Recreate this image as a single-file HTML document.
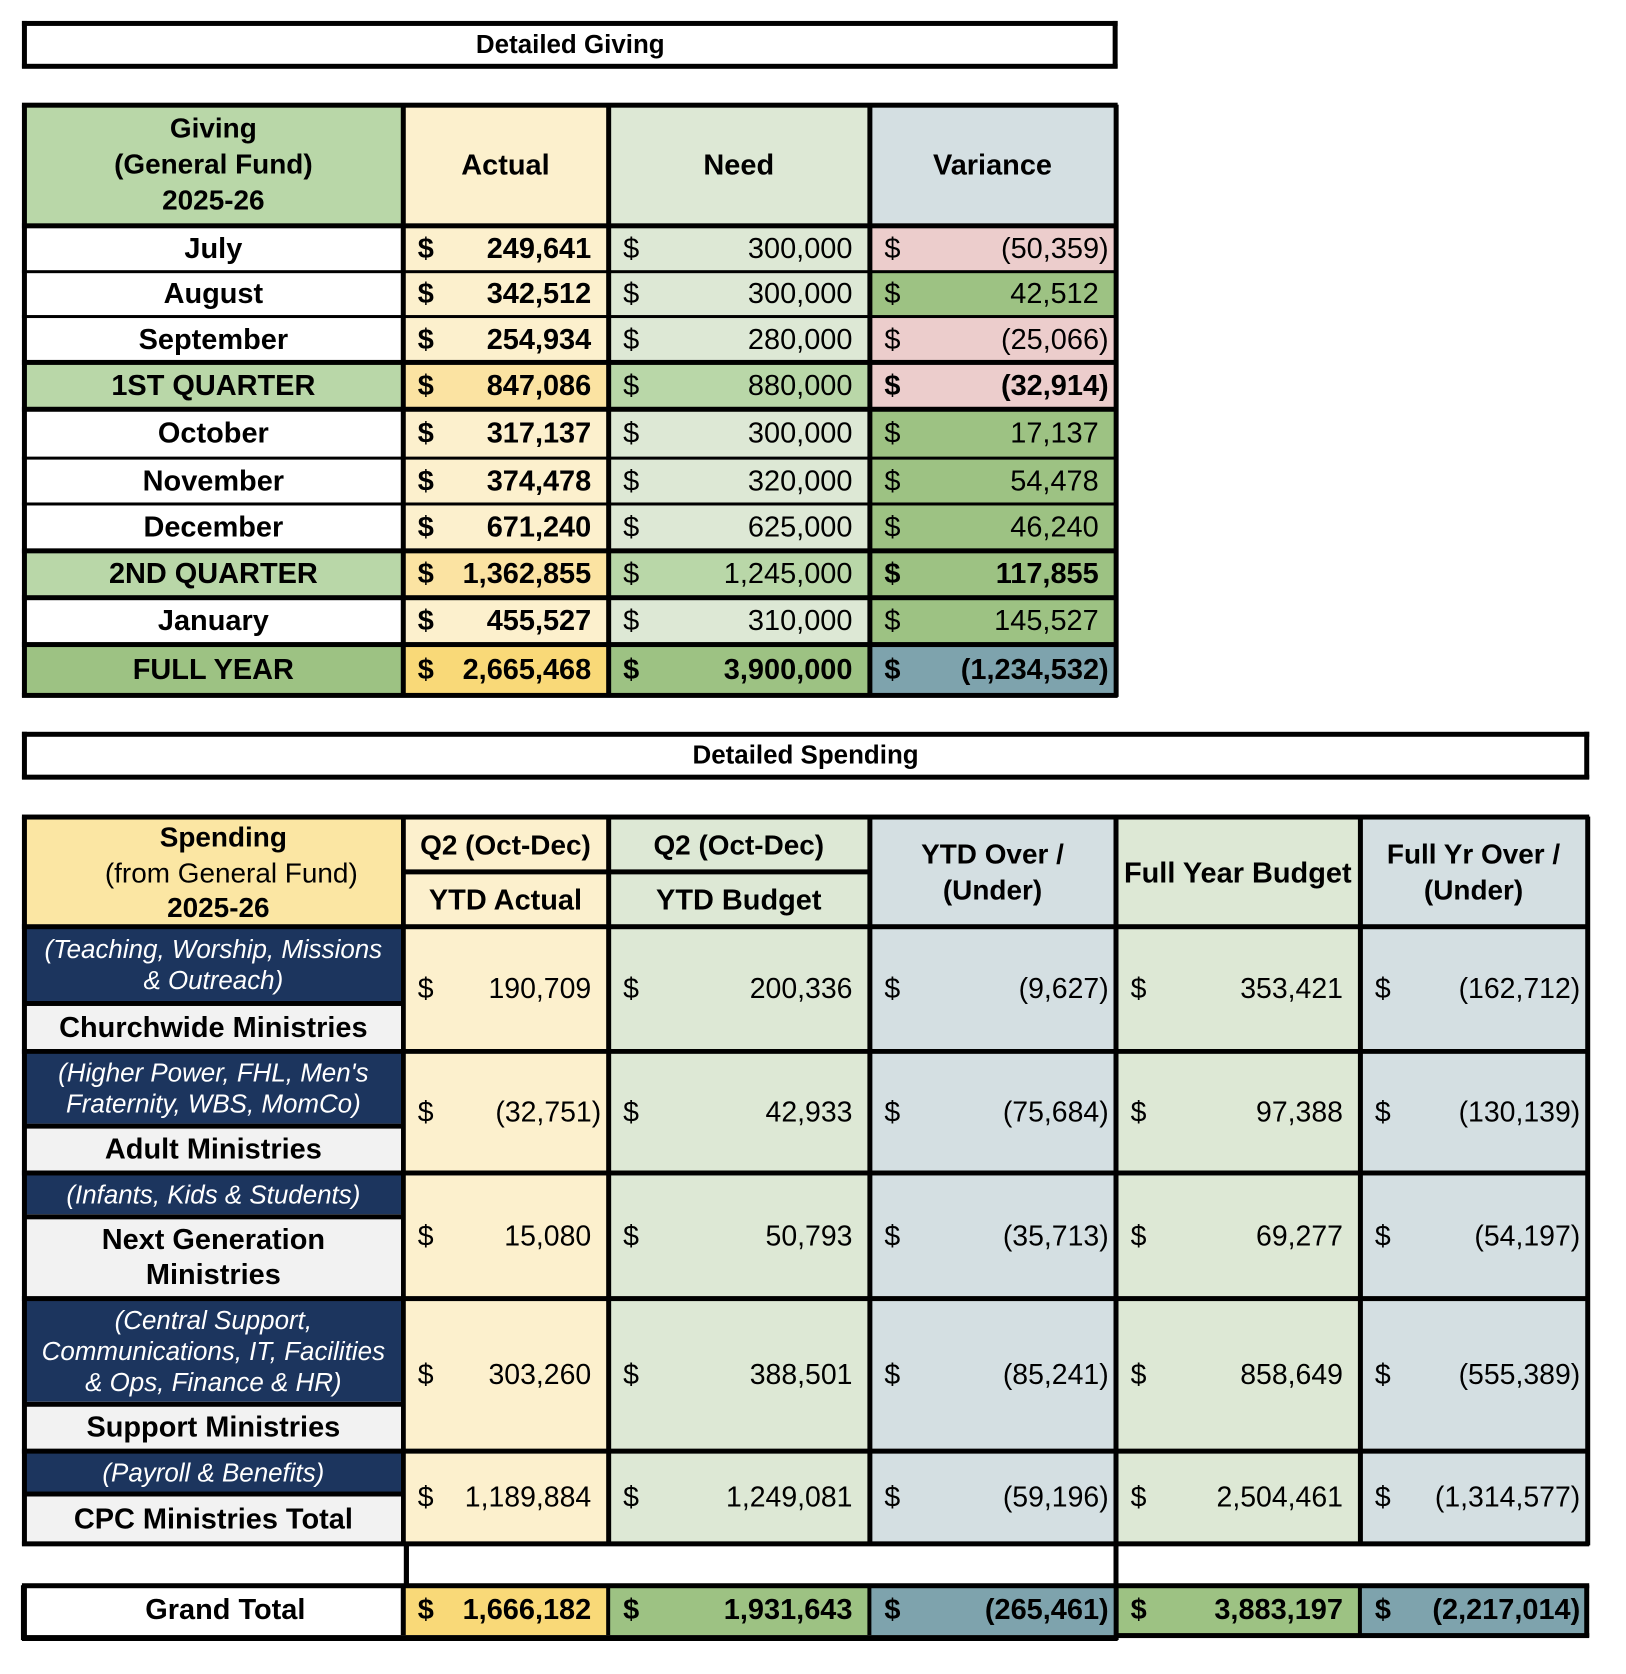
<!DOCTYPE html>
<html><head><meta charset="utf-8">
<style>
html,body{margin:0;padding:0;background:#fff;}
#wrap{position:relative;width:1626px;height:1674px;overflow:hidden;background:#fff;}
#root{position:absolute;left:0;top:0;width:1626px;height:1674px;transform:scale(0.997);transform-origin:0 0;font-family:"Liberation Sans",Arial,sans-serif;color:#000;}
.c{position:absolute;box-sizing:border-box;}
.t{position:absolute;white-space:nowrap;line-height:1;}
.ln{position:absolute;background:#000;}
</style></head>
<body>
<div id="wrap"><div id="root"></div></div>
<script>
// ---------- Giving data ----------
const givingLabels = ["July","August","September","1ST QUARTER","October","November","December","2ND QUARTER","January","FULL YEAR"];
const givingActual = ["249,641","342,512","254,934","847,086","317,137","374,478","671,240","1,362,855","455,527","2,665,468"];
const givingNeed = ["300,000","300,000","280,000","880,000","300,000","320,000","625,000","1,245,000","310,000","3,900,000"];
const givingVariance = ["(50,359)","42,512","(25,066)","(32,914)","17,137","54,478","46,240","117,855","145,527","(1,234,532)"];
const givingKind = ["m","m","m","q","m","m","m","q","m","y"];
// ---------- Spending data ----------
const spendDesc = ["(Teaching, Worship, Missions|& Outreach)","(Higher Power, FHL, Men's|Fraternity, WBS, MomCo)","(Infants, Kids & Students)","(Central Support,|Communications, IT, Facilities|& Ops, Finance & HR)","(Payroll & Benefits)"];
const spendName = ["Churchwide Ministries","Adult Ministries","Next Generation|Ministries","Support Ministries","CPC Ministries Total"];
const spendActual = ["190,709","(32,751)","15,080","303,260","1,189,884"];
const spendBudget = ["200,336","42,933","50,793","388,501","1,249,081"];
const spendOver = ["(9,627)","(75,684)","(35,713)","(85,241)","(59,196)"];
const spendFull = ["353,421","97,388","69,277","858,649","2,504,461"];
const spendFullOver = ["(162,712)","(130,139)","(54,197)","(555,389)","(1,314,577)"];
const grandValues = ["1,666,182","1,931,643","(265,461)","3,883,197","(2,217,014)"];

const root = document.getElementById('root');
function box(x0,y0,x1,y1,bg,name){
  const d=document.createElement('div');d.className='c';
  d.style.left=x0+'px';d.style.top=y0+'px';d.style.width=(x1-x0)+'px';d.style.height=(y1-y0)+'px';
  if(bg)d.style.background=bg;
  
  
  root.appendChild(d);return d;
}
function txt(s,x,y,opt,name){
  const d=document.createElement('div');d.className='t';d.textContent=s;
  const sz=opt.size||29;
  d.style.fontSize=sz+'px';
  d.style.fontWeight=opt.bold?'bold':'normal';
  if(opt.italic)d.style.fontStyle='italic';
  if(opt.color)d.style.color=opt.color;
  d.style.top=(y-sz*0.5)+'px';
  if(opt.align==='right'){d.style.right=(1626-x)+'px';}
  else if(opt.align==='center'){d.style.left=(x-400)+'px';d.style.width='800px';d.style.textAlign='center';}
  else d.style.left=x+'px';
  
  
  root.appendChild(d);return d;
}
function hl(x0,x1,y,w){const d=document.createElement('div');d.className='ln';d.style.left=x0+'px';d.style.top=(y-w/2)+'px';d.style.width=(x1-x0)+'px';d.style.height=w+'px';
  
  
  root.appendChild(d);}
function vl(x,y0,y1,w){const d=document.createElement('div');d.className='ln';d.style.left=(x-w/2)+'px';d.style.top=y0+'px';d.style.width=w+'px';d.style.height=(y1-y0)+'px';
  
  
  root.appendChild(d);}
function money(v,x0,x1,yc,opt,name){
  txt('$',x0+15,yc,opt,name+'-dollar');
  const neg=v.startsWith('(');
  txt(v,x1-(neg?7:17),yc,Object.assign({align:'right'},opt),name);
}
function multiline(s,xc,yc,opt,name,lh){
  const parts=s.split('|');const n=parts.length;
  parts.forEach((p,i)=>txt(p,xc,yc+(i-(n-1)/2)*lh,Object.assign({align:'center'},opt),name+'-line'+(i+1)));
}

// ---------- Giving ----------
box(24,21,1119,67,'#fff','giving-title-box');
txt('Detailed Giving',572,44,{bold:true,size:26,align:'center'},'giving-title');
hl(22,1121,23,5);hl(22,1121,66,5);vl(24,21,68,5);vl(1118,21,68,5);

const gx=[24,404,610,872,1119];
const gy=[105,226,272,317,363,410,459,505,552,599,646,697];
box(gx[0],gy[0],gx[1],gy[1],'#b9d7a8','giving-header-label');
box(gx[1],gy[0],gx[2],gy[1],'#fcf0cd','actual-header');
box(gx[2],gy[0],gx[3],gy[1],'#dde8d5','need-header');
box(gx[3],gy[0],gx[4],gy[1],'#d4dfe2','variance-header');
multiline('Giving|(General Fund)|2025-26',(gx[0]+gx[1])/2,165,{bold:true,size:28},'giving-header',36);
txt('Actual',(gx[1]+gx[2])/2,166,{bold:true,size:29,align:'center'},'actual-header-text');
txt('Need',(gx[2]+gx[3])/2,166,{bold:true,size:29,align:'center'},'need-header-text');
txt('Variance',(gx[3]+gx[4])/2,166,{bold:true,size:29,align:'center'},'variance-header-text');

for(let i=0;i<givingLabels.length;i++){
  const y0=gy[i+1],y1=gy[i+2],yc=(y0+y1)/2+1,k=givingKind[i];
  const bold=k!=='m';
  const lab=k==='m'?'#fff':(k==='q'?'#b9d7a8':'#9dc283');
  const act=k==='m'?'#fcf0cd':(k==='q'?'#fbe3a2':'#f9d978');
  const nd=k==='m'?'#dde8d5':(k==='q'?'#b9d7a8':'#9dc283');
  const neg=givingVariance[i].startsWith('(');
  const vr=k==='y'?'#7ea3ad':(neg?'#eccdcc':'#9dc283');
  const key=givingLabels[i].toLowerCase().replace(/\s+/g,'-');
  box(gx[0],y0,gx[1],y1,lab,key+'-label-cell');
  box(gx[1],y0,gx[2],y1,act,key+'-actual-cell');
  box(gx[2],y0,gx[3],y1,nd,key+'-need-cell');
  box(gx[3],y0,gx[4],y1,vr,key+'-variance-cell');
  txt(givingLabels[i],(gx[0]+gx[1])/2,yc,{bold:true,size:29,align:'center'},key+'-label');
  money(givingActual[i],gx[1],gx[2],yc,{bold:true,size:29},key+'-actual');
  money(givingNeed[i],gx[2],gx[3],yc,{bold:k==='y',size:29},key+'-need');
  money(givingVariance[i],gx[3],gx[4],yc,{bold:bold,size:29},key+'-variance');
}
for(let i=0;i<gy.length;i++){
  const thick=[0,1,4,5,8,9,10,11].includes(i);
  hl(22,1121,gy[i],thick?5:3);
}
gx.forEach(x=>vl(x,gy[0],gy[gy.length-1]+2,5));

// ---------- Spending ----------
box(24,734,1592,780,'#fff','spending-title-box');
txt('Detailed Spending',808,757,{bold:true,size:26,align:'center'},'spending-title');
hl(22,1594,736,5);hl(22,1594,779,5);vl(24,734,781,5);vl(1591,734,781,5);

const sx=[24,404,610,872,1119,1364,1592];
const sy=[819,929,1054,1176,1302,1455,1548];
const sub=874;
box(sx[0],sy[0],sx[1],sy[1],'#fbe6a3','spending-header-label');
box(sx[1],sy[0],sx[2],sy[1],'#fcf0cd','ytd-actual-header');
box(sx[2],sy[0],sx[3],sy[1],'#dde8d5','ytd-budget-header');
box(sx[3],sy[0],sx[4],sy[1],'#d4dfe2','ytd-over-header');
box(sx[4],sy[0],sx[5],sy[1],'#dde8d5','full-year-budget-header');
box(sx[5],sy[0],sx[6],sy[1],'#d4dfe2','full-year-over-header');
txt('Spending',224,840,{bold:true,size:28,align:'center'},'spending-header-line1');
txt('(from General Fund)',232,876,{size:28,align:'center'},'spending-header-line2');
txt('2025-26',219,911,{bold:true,size:28,align:'center'},'spending-header-line3');
txt('Q2 (Oct-Dec)',(sx[1]+sx[2])/2,848,{bold:true,size:28,align:'center'},'q2-label-actual');
txt('YTD Actual',(sx[1]+sx[2])/2,903,{bold:true,size:29,align:'center'},'ytd-actual-header-text');
txt('Q2 (Oct-Dec)',(sx[2]+sx[3])/2,848,{bold:true,size:28,align:'center'},'q2-label-budget');
txt('YTD Budget',(sx[2]+sx[3])/2,903,{bold:true,size:29,align:'center'},'ytd-budget-header-text');
multiline('YTD Over /|(Under)',(sx[3]+sx[4])/2,875,{bold:true,size:28},'ytd-over-header-text',36);
txt('Full Year Budget',(sx[4]+sx[5])/2,876,{bold:true,size:29,align:'center'},'full-year-budget-header-text');
multiline('Full Yr Over /|(Under)',(sx[5]+sx[6])/2,875,{bold:true,size:28},'full-year-over-header-text',36);
hl(sx[1],sx[3],sub,5);

const descH=[75,73,42,104,41];
const cols=['#fcf0cd','#dde8d5','#d4dfe2','#dde8d5','#d4dfe2'];
const series=[spendActual,spendBudget,spendOver,spendFull,spendFullOver];
const sNames=['ytd-actual','ytd-budget','ytd-over','full-year-budget','full-year-over'];
for(let i=0;i<spendName.length;i++){
  const y0=sy[i+1],y1=sy[i+2],yc=(y0+y1)/2;
  const key=spendName[i].replace('|',' ').toLowerCase().replace(/\s+/g,'-');
  const yd=y0+descH[i];
  box(sx[0],y0,sx[1],yd,'#1c355e',key+'-description-cell');
  box(sx[0],yd,sx[1],y1,'#f2f2f2',key+'-name-cell');
  hl(sx[0],sx[1],yd+2,5);
  multiline(spendDesc[i],(sx[0]+sx[1])/2,(y0+yd)/2+1,{italic:true,size:26,color:'#fff'},key+'-description',31);
  multiline(spendName[i],(sx[0]+sx[1])/2,(yd+y1)/2+2,{bold:true,size:29},key+'-name',35);
  for(let j=0;j<5;j++){
    box(sx[j+1],y0,sx[j+2],y1,cols[j],key+'-'+sNames[j]+'-cell');
    money(series[j][i],sx[j+1],sx[j+2],yc+1,{size:28.5},key+'-'+sNames[j]);
  }
}
sy.forEach(y=>hl(22,1594,y,5));
sx.forEach(x=>vl(x,sy[0],sy[sy.length-1]+2,5));
// gap lines
vl(407,1548,1590,5);vl(1119,1548,1590,5);
// Grand total
const g0=1590,g1=1640,gc=1615;
box(24,g0,404,g1,'#fff','grand-total-label-cell');
const gcols=['#f9d978','#9dc283','#7ea3ad','#9dc283','#7ea3ad'];
for(let j=0;j<5;j++){
  box(sx[j+1],g0,sx[j+2],g1,gcols[j],'grand-total-'+sNames[j]+'-cell');
  money(grandValues[j],sx[j+1],sx[j+2],gc,{bold:true,size:29},'grand-total-'+sNames[j]);
}
txt('Grand Total',226,gc,{bold:true,size:29,align:'center'},'grand-total-label');
hl(22,1594,g0,5);hl(22,1121,g1+3,6);hl(1119,1594,g1,5);
vl(24,g0,g1+5,6);vl(404,g0,g1,5);vl(610,g0,g1,4);vl(872,g0,g1,4);vl(1119,g0,g1+5,5);vl(1364,g0,g1,4);vl(1591,g0,g1+2,5);
</script>
</body></html>
